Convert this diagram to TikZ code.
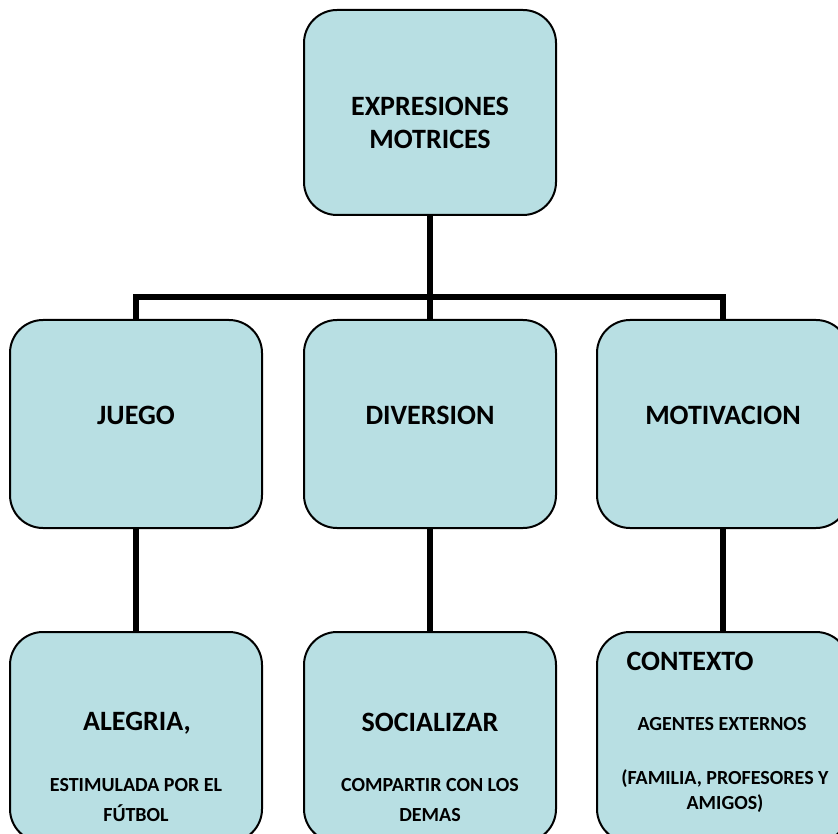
\documentclass[tikz,border=0pt]{standalone}
\usepackage{fontspec}
\setmainfont{Carlito}
\usepackage{tikz}

\definecolor{boxfill}{RGB}{184,223,227}

\tikzset{
    box/.style={draw, line width=1pt, rounded corners=16.5pt, fill=boxfill,
        minimum width=126pt, inner sep=0pt},
    conn/.style={line width=2.6pt},
    bigtext/.style={font=\fontsize{14}{16.5}\selectfont\bfseries, align=center, inner sep=0pt},
    smalltext/.style={font=\fontsize{10}{15}\selectfont\bfseries, align=center, inner sep=0pt}
}

\begin{document}
\begin{tikzpicture}[x=0.5pt, y=-0.5pt]
    \path[use as bounding box, clip] (0,0) rectangle (838,833);

    % Boxes
    \node[box, minimum height=102.5pt] (expr) at (430,112.5) {};
    \node[box, minimum height=104pt] (juego) at (136,424) {};
    \node[box, minimum height=104pt] (diver) at (430,424) {};
    \node[box, minimum height=104pt] (motiv) at (723,424) {};
    \node[box, minimum height=105pt] (alegria) at (136,737) {};
    \node[box, minimum height=105pt] (social) at (430,737) {};
    \node[box, minimum height=105pt] (context) at (723,737) {};

    % Connectors
    \coordinate (bus) at (430,297);
    \draw[conn] (expr.south) -- (bus);
    \draw[conn] (juego.north) |- (bus) -| (motiv.north);
    \draw[conn] (bus) -- (diver.north);
    \draw[conn] (juego.south) -- (alegria.north);
    \draw[conn] (diver.south) -- (social.north);
    \draw[conn] (motiv.south) -- (context.north);

    % Texts
    \node[bigtext] (exprtext) at (430,123) {EXPRESIONES\\MOTRICES};
    \node[bigtext] (juegotext) at (136,415) {JUEGO};
    \node[bigtext] (divertext) at (430,415) {DIVERSION};
    \node[bigtext] (motivtext) at (723,415) {MOTIVACION};
    \node[bigtext] (alegriatext) at (137,723) {ALEGRIA,};
    \node[smalltext] (alegriasub) at (136,800) {ESTIMULADA POR EL\\FÚTBOL};
    \node[bigtext] (socialtext) at (430,722) {SOCIALIZAR};
    \node[smalltext] (socialsub) at (430,800) {COMPARTIR CON LOS\\DEMAS};
    \node[bigtext] (contexttext) at (690,661) {CONTEXTO};
    \node[smalltext] (agentes) at (722,724) {AGENTES EXTERNOS};
    \node[smalltext, font=\fontsize{10}{12.5}\selectfont\bfseries] (familia) at (725,791) {(FAMILIA, PROFESORES Y\\AMIGOS)};
\end{tikzpicture}
\end{document}
